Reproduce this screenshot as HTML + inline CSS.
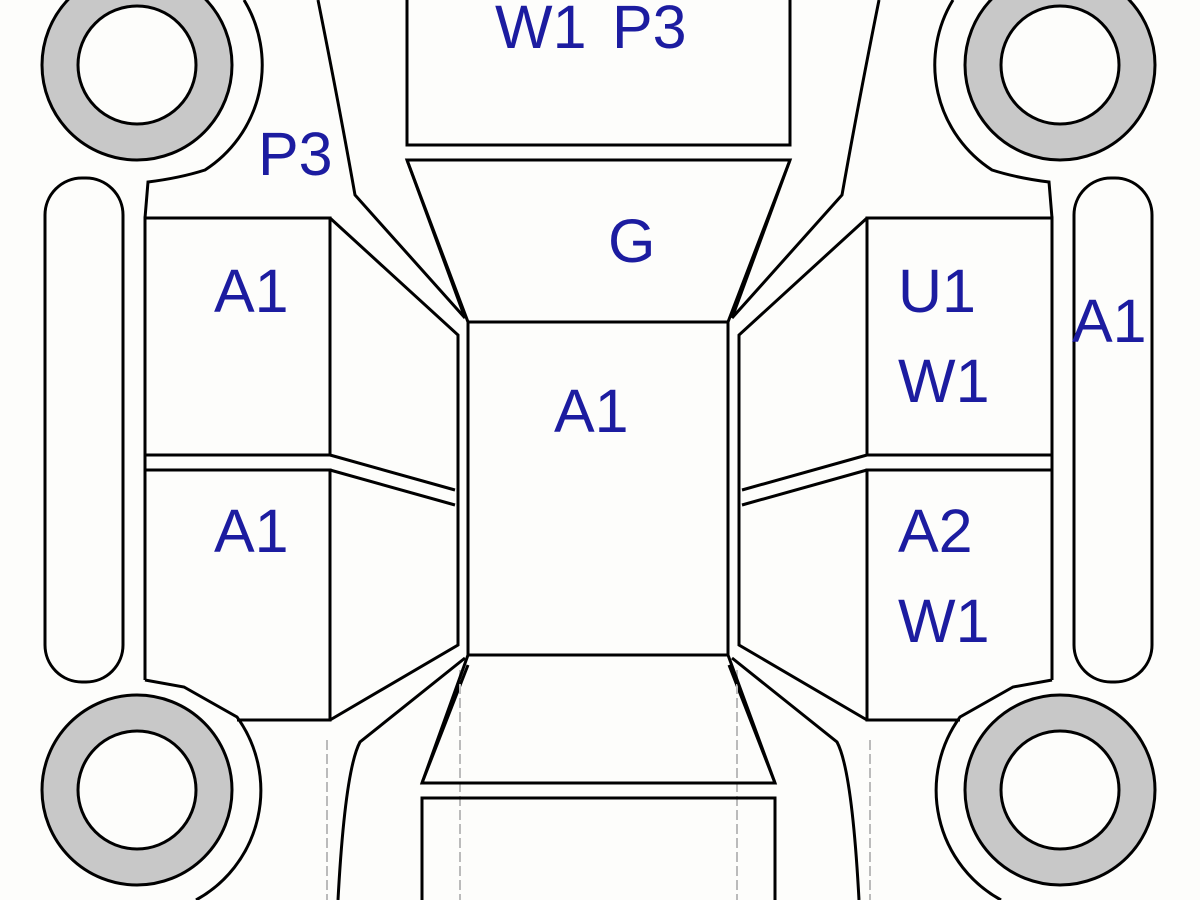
<!DOCTYPE html>
<html><head><meta charset="utf-8"><style>
html,body{margin:0;padding:0;background:#fdfdfb;}
svg{display:block}
text{font-family:"Liberation Sans",Arial,sans-serif;font-size:61px;fill:#1c1ca0;}
</style></head><body>
<svg width="1200" height="900" viewBox="0 0 1200 900" xmlns="http://www.w3.org/2000/svg">
<rect width="1200" height="900" fill="#fdfdfb"/>
<defs>
<g id="side" fill="none" stroke="#000" stroke-width="3">
  <circle cx="137" cy="65" r="77" stroke="#c8c8c8" stroke-width="36"/>
  <circle cx="137" cy="65" r="95"/>
  <circle cx="137" cy="65" r="59"/>
  <circle cx="137" cy="790" r="77" stroke="#c8c8c8" stroke-width="36"/>
  <circle cx="137" cy="790" r="95"/>
  <circle cx="137" cy="790" r="59"/>
  <path d="M244,0 A125,125 0 0 1 205,170 Q180,178 148,182 L145,218"/>
  <path d="M145,680 L184,687 L237,717 A125,125 0 0 1 196,900"/>
  <rect x="45" y="178" width="78" height="504" rx="37"/>
  <rect x="145" y="218" width="185" height="237"/>
  <path d="M145,680 L145,470 L330,470 L330,720 L237,720"/>
  <line x1="145" y1="455" x2="145" y2="470"/>
  <path d="M318,0 Q340,110 355,195 L465,318"/>
  <path d="M330,218 L458,335 L458,645 L330,720"/>
  <path d="M330,455 L455,490 M330,470 L455,505"/>
  <path d="M465,658 L360,742 Q345,770 338,900"/>
  <path d="M407,160 L465,318"/>
  <path d="M468,665 L422,783"/>
  <path d="M327,740 L327,900 M460,670 L460,900" stroke="#bbb" stroke-width="2" stroke-dasharray="10,4"/>
</g>
</defs>
<use href="#side"/>
<use href="#side" transform="translate(1197,0) scale(-1,1)"/>
<g fill="none" stroke="#000" stroke-width="3">
  <path d="M407,0 L407,145 L790,145 L790,0"/>
  <path d="M407,160 L790,160 L728,322 L468,322 Z"/>
  <rect x="468" y="322" width="260" height="333"/>
  <path d="M468,655 L728,655 L775,783 L422,783 Z"/>
  <path d="M422,900 L422,798 L775,798 L775,900"/>
</g>
<text x="495" y="48">W1</text>
<text x="612" y="48">P3</text>
<text x="258" y="175">P3</text>
<text x="608" y="262">G</text>
<text x="214" y="312">A1</text>
<text x="214" y="552">A1</text>
<text x="554" y="432">A1</text>
<text x="898" y="312">U1</text>
<text x="898" y="402">W1</text>
<text x="898" y="552">A2</text>
<text x="898" y="642">W1</text>
<text x="1072" y="342">A1</text>
</svg>
</body></html>
